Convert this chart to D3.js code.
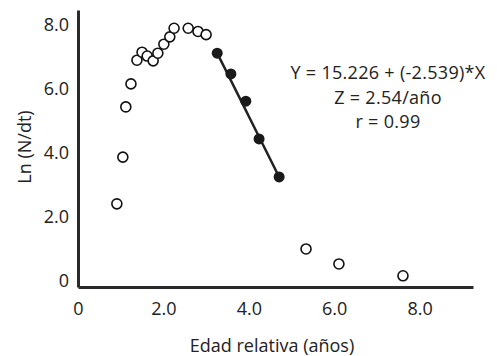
<!DOCTYPE html>
<html lang="es">
<head>
    <meta charset="UTF-8">
    <title>Curva de captura</title>
    <style>
        body{ margin:0; background:#fff; }
        text{ font-family:"Open Sans", sans-serif; fill:#222; }
    </style>
    <script src="https://d3js.org/d3.v7.min.js"></script>
</head>
<body>
    <div class="canvas"></div>
    <script>
    // puntos abiertos (no usados en la regresion)
    const openX = [0.91, 1.05, 1.12, 1.24, 1.38, 1.50, 1.62, 1.76, 1.87, 2.01, 2.15, 2.25, 2.58, 2.81, 3.00, 5.34, 6.11, 7.61];
    const openY = [2.41, 3.87, 5.44, 6.16, 6.90, 7.15, 7.03, 6.88, 7.12, 7.40, 7.63, 7.90, 7.90, 7.80, 7.70, 1.00, 0.53, 0.16];
    // puntos llenos (regresion)
    const fillX = [3.26, 3.58, 3.93, 4.24, 4.71];
    const fillY = [7.12, 6.47, 5.62, 4.44, 3.25];

    const xTicks = [0, 2, 4, 6, 8];
    const yTicks = [0, 2, 4, 6, 8];
    const eqLines = ['Y = 15.226 + (-2.539)*X', 'Z = 2.54/año', 'r = 0.99'];

    const W = 497, H = 356;
    const svg = d3.select('.canvas')
                    .append('svg')
                    .attr('width', W)
                    .attr('height', H);

    const x = d3.scaleLinear().domain([0, 9.25]).range([78, 473]);
    const y = d3.scaleLinear().domain([-0.19, 8.47]).range([287, 10]);
    const fmt = d => d === 0 ? '0' : d3.format('.1f')(d);

    const gx = svg.append('g')
        .attr('transform', 'translate(0,287)')
        .call(d3.axisBottom(x).tickValues(xTicks).tickFormat(fmt).tickSize(0).tickPadding(15));
    const gy = svg.append('g')
        .attr('transform', 'translate(78,0)')
        .call(d3.axisLeft(y).tickValues(yTicks).tickFormat(fmt).tickSize(0).tickPadding(9));

    [gx, gy].forEach(g => {
        g.select('.domain').attr('stroke', '#2a2a2a').attr('stroke-width', 3);
        g.selectAll('text').style('font-family', '"Open Sans", sans-serif')
            .style('font-size', '18px').attr('fill', '#222');
    });

    // linea de regresion
    const line = d3.line().x(d => x(d[0])).y(d => y(d[1]));
    svg.append('path')
        .datum([[fillX[0], fillY[0]], [fillX[fillX.length - 1], fillY[fillY.length - 1]]])
        .attr('d', line)
        .attr('fill', 'none')
        .attr('stroke', '#222')
        .attr('stroke-width', 2.5);

    svg.selectAll('circle.open')
        .data(openX.map((v, i) => [v, openY[i]]))
        .enter()
        .append('circle')
        .attr('class', 'open')
        .attr('cx', d => x(d[0]))
        .attr('cy', d => y(d[1]))
        .attr('r', 5)
        .attr('fill', '#fff')
        .attr('stroke', '#111')
        .attr('stroke-width', 1.6);

    svg.selectAll('circle.fill')
        .data(fillX.map((v, i) => [v, fillY[i]]))
        .enter()
        .append('circle')
        .attr('class', 'fill')
        .attr('cx', d => x(d[0]))
        .attr('cy', d => y(d[1]))
        .attr('r', 5.5)
        .attr('fill', '#1a1a1a');

    svg.selectAll('text.eq')
        .data(eqLines)
        .enter()
        .append('text')
        .attr('class', 'eq')
        .attr('x', 388)
        .attr('y', (d, i) => 79 + i * 24.5)
        .attr('text-anchor', 'middle')
        .style('font-size', '18px')
        .style('letter-spacing', '0.3px')
        .text(d => d);

    svg.append('text')
        .attr('x', 272)
        .attr('y', 352)
        .attr('text-anchor', 'middle')
        .style('font-size', '18px')
        .text('Edad relativa (años)');

    svg.append('text')
        .attr('transform', 'translate(31,147) rotate(-90)')
        .attr('text-anchor', 'middle')
        .style('font-size', '18px')
        .text('Ln (N/dt)');
    </script>
</body>
</html>
